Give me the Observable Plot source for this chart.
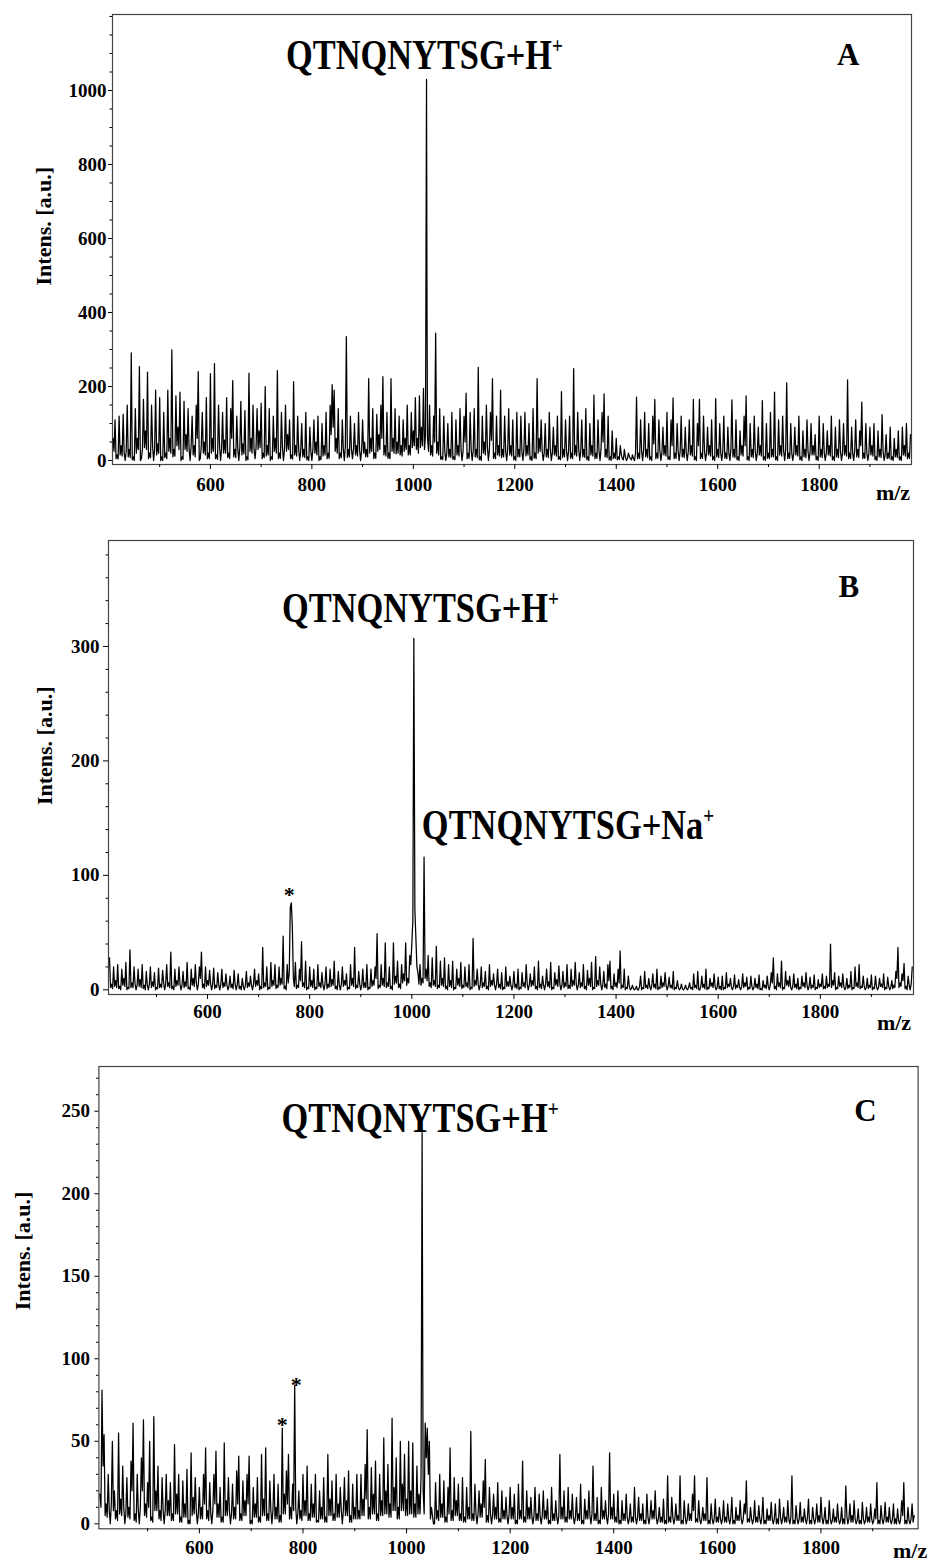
<!DOCTYPE html>
<html><head><meta charset="utf-8">
<script src="https://cdn.jsdelivr.net/npm/d3@7"></script>
<script src="https://cdn.jsdelivr.net/npm/@observablehq/plot@0.6"></script>
<style>
body{margin:0;background:#fff;}
#chart{width:931px;}
#chart svg{display:block;}
</style></head><body><div id="chart"></div>
<script>
// m/z sampling points of the spectra (even and odd samples)
const mzEven = [
408,412,416,420,424,428,432,436,440,444,448,452,456,460,464,468,472,476,480,484,488,492,496,500,504,
508,512,516,520,524,528,532,536,540,544,548,552,556,560,564,568,572,576,580,584,588,592,596,600,604,
608,612,616,620,624,628,632,636,640,644,648,652,656,660,664,668,672,676,680,684,688,692,696,700,704,
708,712,716,720,724,728,732,736,740,744,748,752,756,760,764,768,772,776,780,784,788,792,796,800,804,
808,812,816,820,824,828,832,836,840,844,848,852,856,860,864,868,872,876,880,884,888,892,896,900,904,
908,912,916,920,924,928,932,936,940,944,948,952,956,960,964,968,972,976,980,984,988,992,996,1000,1004,
1008,1012,1016,1020,1024,1028,1032,1036,1040,1044,1048,1052,1056,1060,1064,1068,1072,1076,1080,1084,1088,1092,1096,1100,1104,
1108,1112,1116,1120,1124,1128,1132,1136,1140,1144,1148,1152,1156,1160,1164,1168,1172,1176,1180,1184,1188,1192,1196,1200,1204,
1208,1212,1216,1220,1224,1228,1232,1236,1240,1244,1248,1252,1256,1260,1264,1268,1272,1276,1280,1284,1288,1292,1296,1300,1304,
1308,1312,1316,1320,1324,1328,1332,1336,1340,1344,1348,1352,1356,1360,1364,1368,1372,1376,1380,1384,1388,1392,1396,1400,1404,
1408,1412,1416,1420,1424,1428,1432,1436,1440,1444,1448,1452,1456,1460,1464,1468,1472,1476,1480,1484,1488,1492,1496,1500,1504,
1508,1512,1516,1520,1524,1528,1532,1536,1540,1544,1548,1552,1556,1560,1564,1568,1572,1576,1580,1584,1588,1592,1596,1600,1604,
1608,1612,1616,1620,1624,1628,1632,1636,1640,1644,1648,1652,1656,1660,1664,1668,1672,1676,1680,1684,1688,1692,1696,1700,1704,
1708,1712,1716,1720,1724,1728,1732,1736,1740,1744,1748,1752,1756,1760,1764,1768,1772,1776,1780,1784,1788,1792,1796,1800,1804,
1808,1812,1816,1820,1824,1828,1832,1836,1840,1844,1848,1852,1856,1860,1864,1868,1872,1876,1880,1884,1888,1892,1896,1900,1904,
1908,1912,1916,1920,1924,1928,1932,1936,1940,1944,1948,1952,1956,1960,1964,1968,1972,1976,1980];
const mzOdd = [
410,414,418,422,426,430,434,438,442,446,450,454,458,462,466,470,474,478,482,486,490,494,498,502,506,
510,514,518,522,526,530,534,538,542,546,550,554,558,562,566,570,574,578,582,586,590,594,598,602,606,
610,614,618,622,626,630,634,638,642,646,650,654,658,662,666,670,674,678,682,686,690,694,698,702,706,
710,714,718,722,726,730,734,738,742,746,750,754,758,762,766,770,774,778,782,786,790,794,798,802,806,
810,814,818,822,826,830,834,838,842,846,850,854,858,862,866,870,874,878,882,886,890,894,898,902,906,
910,914,918,922,926,930,934,938,942,946,950,954,958,962,966,970,974,978,982,986,990,994,998,1002,1006,
1010,1014,1018,1022,1026,1030,1034,1038,1042,1046,1050,1054,1058,1062,1066,1070,1074,1078,1082,1086,1090,1094,1098,1102,1106,
1110,1114,1118,1122,1126,1130,1134,1138,1142,1146,1150,1154,1158,1162,1166,1170,1174,1178,1182,1186,1190,1194,1198,1202,1206,
1210,1214,1218,1222,1226,1230,1234,1238,1242,1246,1250,1254,1258,1262,1266,1270,1274,1278,1282,1286,1290,1294,1298,1302,1306,
1310,1314,1318,1322,1326,1330,1334,1338,1342,1346,1350,1354,1358,1362,1366,1370,1374,1378,1382,1386,1390,1394,1398,1402,1406,
1410,1414,1418,1422,1426,1430,1434,1438,1442,1446,1450,1454,1458,1462,1466,1470,1474,1478,1482,1486,1490,1494,1498,1502,1506,
1510,1514,1518,1522,1526,1530,1534,1538,1542,1546,1550,1554,1558,1562,1566,1570,1574,1578,1582,1586,1590,1594,1598,1602,1606,
1610,1614,1618,1622,1626,1630,1634,1638,1642,1646,1650,1654,1658,1662,1666,1670,1674,1678,1682,1686,1690,1694,1698,1702,1706,
1710,1714,1718,1722,1726,1730,1734,1738,1742,1746,1750,1754,1758,1762,1766,1770,1774,1778,1782,1786,1790,1794,1798,1802,1806,
1810,1814,1818,1822,1826,1830,1834,1838,1842,1846,1850,1854,1858,1862,1866,1870,1874,1878,1882,1886,1890,1894,1898,1902,1906,
1910,1914,1918,1922,1926,1930,1934,1938,1942,1946,1950,1954,1958,1962,1966,1970,1974,1978];

// Panel A intensities
const intensA = [
60,110,15,120,40,125,0,150,30,291,10,140,60,254,5,165,80,239,20,150,0,190,45,170,10,
130,20,190,60,299,30,175,90,185,10,160,70,140,0,120,40,150,240,5,130,50,170,20,235,60,
262,15,150,0,130,55,170,20,140,216,30,120,0,160,45,135,10,236,60,150,5,140,80,155,20,
200,40,140,10,120,60,243,20,130,0,150,70,110,15,213,40,120,0,100,30,130,10,90,0,110,
50,120,10,100,40,130,20,150,205,190,60,140,20,110,0,335,30,120,5,100,40,130,0,110,50,
30,221,60,140,20,125,70,150,227,40,130,20,221,60,140,50,120,40,110,60,150,40,130,80,170,
60,175,90,195,70,60,150,40,120,344,50,140,10,120,0,100,30,130,10,110,40,140,0,120,182,
20,130,0,140,30,252,10,120,50,150,0,130,221,20,120,40,190,30,120,0,140,40,110,10,130,
30,120,0,130,40,100,10,140,20,221,60,110,0,100,30,130,0,90,40,120,10,186,30,110,0,
120,20,248,40,130,0,110,30,140,10,100,40,177,20,110,0,130,180,30,120,10,80,20,60,10,
40,5,30,0,20,5,15,0,171,20,110,0,130,30,100,10,120,165,20,110,0,90,40,130,10,
110,169,20,100,0,120,30,90,0,110,40,165,10,100,165,20,120,0,90,40,110,10,167,30,100,
0,120,20,90,0,164,30,110,10,80,40,120,175,10,100,30,120,0,90,40,162,10,100,20,130,
30,185,10,110,40,120,0,210,20,100,0,90,40,120,10,80,30,110,0,100,40,70,10,120,30,
100,0,80,40,120,10,90,30,110,0,100,40,218,20,90,0,110,30,80,158,20,100,0,90,40,
100,10,80,30,124,0,70,20,90,10,60,30,80,10,90,40,100,20,70];
const intensA2 = [
25,5,4,15,12,20,25,10,8,2,0,20,30,0,30,35,30,5,8,40,30,15,20,0,0,
8,5,25,20,10,12,40,30,0,3,30,25,30,40,15,10,60,0,40,20,15,5,5,20,25,
5,3,40,30,20,20,8,5,60,10,8,30,35,15,18,0,2,25,20,30,35,30,35,5,8,
12,15,0,3,25,20,5,6,35,30,25,30,5,4,15,12,30,25,10,8,2,0,25,30,20,
15,0,2,12,15,5,6,70,90,25,20,5,8,30,40,8,10,30,30,15,12,30,25,20,10,
10,20,25,5,6,25,30,60,15,12,6,5,25,20,18,20,15,12,25,30,15,15,35,40,30,
20,35,40,30,1030,25,15,12,50,20,15,3,2,25,20,10,8,3,2,15,12,30,25,50,5,
6,30,25,10,8,2,0,20,15,35,30,55,6,5,15,12,8,10,25,30,15,12,2,0,10,
10,25,30,12,15,2,0,6,5,20,25,25,20,10,8,30,20,15,12,3,2,8,10,25,25,
6,5,15,12,30,25,10,8,2,0,15,12,5,6,25,30,50,10,8,2,0,5,6,2,3,
15,2,10,5,10,2,5,20,5,6,25,30,10,8,2,0,45,5,6,25,20,15,12,3,2,
40,5,6,25,25,10,8,20,25,15,12,2,0,40,5,6,25,20,15,12,2,0,10,8,20,
25,6,5,20,30,10,8,2,0,15,12,40,2,0,10,8,25,20,15,12,2,0,6,5,10,
10,2,0,15,12,25,30,5,6,20,20,15,12,2,0,10,8,25,20,15,15,2,0,10,8,
20,20,15,12,2,0,10,8,25,20,15,12,5,6,20,25,10,8,40,5,6,20,20,15,12,
2,0,10,8,25,15,5,6,2,0,10,8,2,0,15,12,5,6];
const peakMzA = [1027];
const peakIntA = [390];

// Panel B intensities
const intensB = [
28,5,20,8,22,3,18,10,24,2,35,6,20,0,18,9,22,4,16,0,20,7,15,2,19,
5,17,0,22,6,33,3,18,8,20,0,16,7,24,2,18,10,22,0,20,33,5,20,8,17,
0,19,4,15,0,18,6,14,0,12,5,17,0,14,3,10,0,16,6,12,0,18,8,14,3,
37,6,20,2,24,8,22,4,20,10,47,3,22,15,76,10,24,4,18,42,6,25,2,20,8,
18,2,22,6,15,0,20,5,18,9,25,3,16,0,20,8,14,2,22,10,37,4,16,0,18,
6,22,2,18,8,20,49,4,22,10,41,6,20,3,41,12,25,5,22,14,41,10,30,40,307,
45,15,22,10,116,18,30,6,28,8,38,4,25,10,28,3,22,8,25,2,18,10,24,4,20,
6,22,2,45,8,18,0,20,6,16,3,22,8,14,0,18,5,15,2,20,7,12,0,16,5,
18,2,15,6,22,0,14,8,20,3,25,5,12,0,18,7,24,2,15,9,21,0,16,6,22,
4,18,8,24,0,15,6,22,3,17,10,24,2,29,8,20,0,16,5,22,25,3,14,6,18,
34,4,18,2,12,0,4,0,3,0,12,2,16,4,10,0,14,5,18,2,12,6,15,0,11,
4,16,2,8,0,5,0,4,0,6,2,14,4,16,0,12,5,18,2,10,6,14,0,11,3,
12,2,15,5,10,0,13,4,9,0,14,6,11,2,12,0,10,5,13,1,8,4,12,0,15,
28,3,14,6,25,2,16,8,12,0,14,5,10,2,12,6,15,0,11,4,13,2,9,5,14,
3,12,5,40,8,15,2,12,6,14,0,10,4,16,2,20,6,22,3,12,0,10,4,13,2,
12,0,10,5,14,2,11,0,8,4,16,37,6,14,23,3,12,0,20];
const intensB2 = [
2,1,3,2,1,0,4,3,0,1,2,2,5,4,3,2,1,0,4,5,2,3,0,1,2,
2,6,5,3,2,1,0,3,4,5,4,2,3,1,0,4,3,6,5,10,2,1,3,4,5,
5,1,2,4,5,2,3,4,3,2,1,5,4,1,0,3,4,2,3,4,5,3,4,0,1,
2,3,0,1,3,4,1,2,4,5,1,0,6,72,55,3,1,2,8,3,2,0,1,3,2,
0,1,3,2,4,5,1,2,3,4,1,0,4,5,3,4,0,1,4,3,1,2,5,4,2,
2,0,1,3,4,10,1,2,4,3,2,3,1,0,5,6,2,1,6,8,4,6,22,60,70,
20,5,4,6,10,8,3,2,4,3,1,2,4,3,1,0,3,2,0,1,4,3,1,2,3,
2,0,1,3,4,5,4,2,3,1,0,3,4,4,5,2,1,0,1,3,3,4,4,2,1,
0,1,3,2,5,4,3,4,1,0,2,1,4,5,3,2,0,1,4,3,5,4,2,3,1,
1,3,4,5,4,2,3,1,0,4,3,0,1,3,4,5,4,2,1,8,1,0,3,2,6,
1,2,0,1,3,1,1,1,0,3,0,1,2,1,3,4,2,1,0,1,2,3,4,3,2,
1,0,1,2,1,1,1,1,2,1,0,2,1,0,3,2,1,0,1,3,2,3,2,1,0,
0,1,2,3,2,3,1,2,2,3,2,3,0,1,3,2,2,1,0,0,2,1,3,4,6,
1,0,3,2,0,1,4,3,2,3,2,1,0,1,3,2,4,3,1,2,0,1,2,3,1,
1,2,3,2,4,0,1,3,2,3,2,1,2,0,1,3,2,1,2,3,2,1,2,0,1,
3,2,3,2,0,1,3,2,1,2,10,2,3,8,1,0,4,5];
const peakMzB = [1005];
const peakIntB = [190];

// Panel C intensities
const intensC = [
18,81,54,12,30,0,50,20,8,55,15,35,0,28,10,38,61,6,30,0,40,63,12,25,50,
4,65,20,35,8,28,0,30,14,25,6,48,18,30,4,26,12,33,2,43,16,28,0,22,10,
30,46,8,25,0,30,44,12,22,4,49,14,28,0,24,10,32,41,6,26,14,30,41,2,22,
12,28,4,42,15,46,6,26,0,30,10,24,5,58,18,32,42,10,24,84,0,20,8,30,14,
35,6,24,12,30,2,20,10,28,4,42,15,26,6,30,12,22,0,28,14,32,5,24,10,30,
8,30,15,36,57,10,34,18,38,6,30,14,52,20,36,12,64,22,40,10,50,24,42,15,50,
20,49,12,35,18,30,20,61,58,50,10,0,25,8,30,12,26,4,22,46,8,28,14,24,6,
28,4,22,10,56,6,24,0,20,12,26,39,5,22,0,18,10,25,3,20,8,16,0,22,10,
18,2,24,8,38,4,20,10,16,0,22,6,18,0,20,8,15,2,22,6,14,0,42,10,20,
4,22,8,18,0,16,6,24,2,15,8,20,0,35,6,16,2,22,8,14,0,43,10,18,4,
20,2,14,6,18,0,12,4,22,0,16,6,12,2,18,0,14,8,20,0,10,4,15,2,29,
4,16,0,12,5,29,2,14,0,12,6,18,29,3,14,0,10,6,28,2,12,0,15,4,10,
0,14,4,12,0,16,2,10,5,14,0,12,26,3,10,0,14,4,11,0,16,2,9,5,13,
0,12,3,15,0,10,4,14,0,29,2,11,0,13,4,9,0,15,2,10,0,12,5,16,0,
10,2,14,0,9,4,12,0,10,3,23,0,12,5,14,0,9,2,13,0,10,4,12,0,9,
25,2,11,0,13,4,10,0,12,3,9,0,14,25,2,10,0,12,5];
const intensC2 = [
10,35,5,4,8,12,8,3,2,6,5,10,6,4,3,20,2,1,8,10,20,5,4,10,2,
1,8,8,3,2,8,8,5,5,2,2,6,6,1,1,4,4,0,0,5,6,8,6,3,3,
12,3,2,6,8,12,4,4,1,1,5,5,8,6,3,3,12,2,2,5,5,12,0,0,4,
4,1,1,5,5,2,2,8,8,3,3,1,1,6,6,12,3,3,8,10,6,3,2,5,5,
2,2,4,4,1,1,3,3,1,1,5,5,2,2,4,4,8,8,5,5,1,1,3,3,3,
3,5,5,15,3,3,6,6,2,2,5,5,6,6,4,4,8,8,3,3,8,8,5,5,6,
6,4,4,6,6,237,6,40,30,3,5,0,3,2,4,4,1,1,6,2,2,5,5,2,2,
1,1,3,3,2,2,6,6,4,4,10,1,1,6,5,3,3,1,1,3,3,4,6,3,3,
0,0,3,3,1,1,3,3,4,5,2,2,4,5,3,3,0,0,2,2,4,5,3,3,1,
1,3,3,4,4,2,2,0,0,3,3,5,6,2,2,0,0,3,3,4,6,3,3,1,1,
0,0,2,2,4,3,1,1,4,4,2,2,0,0,4,4,3,3,4,3,1,1,0,0,1,
1,4,3,2,2,0,0,4,3,2,2,8,1,1,3,3,2,2,0,0,3,3,1,1,3,
3,1,1,3,4,0,0,2,2,3,3,6,1,1,3,3,1,1,3,4,0,0,2,2,3,
3,0,0,4,3,1,1,3,4,0,0,3,3,1,1,3,4,0,0,3,3,1,1,4,3,
0,0,3,2,1,1,3,2,0,0,5,3,1,1,3,2,0,0,3,2,1,1,3,2,3,
0,0,3,3,1,1,2,3,0,0,2,3,5,0,0,2,3,1];
const peakMzC = [1031];
const peakIntC = [127];

// ticks
const xMajorTicks = [600, 800, 1000, 1200, 1400, 1600, 1800];
const xMinorTicks = [500, 700, 900, 1100, 1300, 1500, 1700, 1900];
const yMajorA = [0, 200, 400, 600, 800, 1000];
const yMinorA = [50, 100, 150, 250, 300, 350, 450, 500, 550, 650, 700, 750, 850, 900, 950, 1050, 1100, 1150, 1200];
const yMajorB = [0, 100, 200, 300];
const yMinorB = [20, 40, 60, 80, 120, 140, 160, 180, 220, 240, 260, 280, 320, 340, 360, 380];
const yMajorC = [0, 50, 100, 150, 200, 250];
const yMinorC = [10, 20, 30, 40, 60, 70, 80, 90, 110, 120, 130, 140, 160, 170, 180, 190, 210, 220, 230, 240, 260, 270];

// annotations (text, m/z, intensity)
const titleTextA = ["QTNQNYTSG+H⁺"], titleMzA = [1022], titleIntA = [1096];
const letterA = ["A"], letterMzA = [1857], letterIntA = [1095];
const titleTextB = ["QTNQNYTSG+H⁺", "QTNQNYTSG+Na⁺"], titleMzB = [1017, 1306], titleIntB = [333, 143.6];
const letterB = ["B"], letterMzB = [1856], letterIntB = [351.6];
const starMzB = [760], starIntB = [86.8];
const titleTextC = ["QTNQNYTSG+H⁺"], titleMzC = [1026], titleIntC = [245.5];
const letterC = ["C"], letterMzC = [1886], letterIntC = [250];
const starMzC = [760, 787], starIntC = [62.3, 86.5];
const yLabel = "Intens. [a.u.]";
const xLabel = "m/z";

[intensA, intensB, intensC].forEach((a) => { if (a.length !== mzEven.length) throw new Error("even length " + a.length); });
[intensA2, intensB2, intensC2].forEach((a) => { if (a.length !== mzOdd.length) throw new Error("odd length " + a.length); });

const FONT = "'Liberation Serif','Times New Roman',Times,serif";

function makePanel(c) {
  const pts = mzEven.map((m, i) => ({mz: m, v: c.series[i]}))
    .concat(mzOdd.map((m, i) => ({mz: m, v: c.series2[i]})))
    .concat(c.peakMz.map((m, i) => ({mz: m, v: c.peakInt[i]})))
    .sort((a, b) => a.mz - b.mz);
  const titles = c.titleText.map((t, i) => ({t, mz: c.titleMz[i], v: c.titleInt[i]}));
  const letters = c.letter.map((t, i) => ({t, mz: c.letterMz[i], v: c.letterInt[i]}));
  const stars = c.starMz.map((m, i) => ({t: "*", mz: m, v: c.starInt[i]}));
  return Plot.plot({
    width: 931, height: c.height,
    marginLeft: c.ml, marginRight: c.mr, marginTop: c.mt, marginBottom: c.mb,
    x: {domain: c.xDomain},
    y: {domain: c.yDomain},
    style: {fontFamily: FONT, fontSize: "19px", fontWeight: "bold", color: "black", background: "white"},
    marks: [
      Plot.frame({stroke: "#444", strokeWidth: 1.2}),
      Plot.axisX(xMajorTicks, {tickSize: 5, tickPadding: c.xtp, tickFormat: "d", label: null}),
      Plot.axisX(xMinorTicks, {tickSize: 3, text: null, label: null}),
      Plot.axisY(c.yMajor, {tickSize: c.yts, tickPadding: c.ytp, tickFormat: "d", label: null}),
      Plot.axisY(c.yMinor, {tickSize: 2.5, text: null, label: null}),
      Plot.line(pts, {x: "mz", y: "v", stroke: "black", strokeWidth: 1.25}),
      Plot.text(titles, {x: "mz", y: "v", text: "t", fontSize: 43, fontWeight: "bold", textAnchor: "middle", lineAnchor: "middle"}),
      Plot.text(letters, {x: "mz", y: "v", text: "t", fontSize: 31, fontWeight: "bold", textAnchor: "middle", lineAnchor: "middle"}),
      Plot.text(stars, {x: "mz", y: "v", text: "t", fontSize: 22, fontWeight: "bold", textAnchor: "middle", lineAnchor: "middle", dy: 4}),
      Plot.text([yLabel], {frameAnchor: "left", rotate: -90, dx: c.ylDx, dy: c.ylDy, fontSize: 22, fontWeight: "bold", textAnchor: "middle", lineAnchor: "middle"}),
      Plot.text([xLabel], {frameAnchor: "bottom-right", dx: c.xlDx, dy: c.xlDy, fontSize: 22, fontWeight: "bold", textAnchor: "middle", lineAnchor: "middle"})
    ]
  });
}

const svgA = makePanel({
  series: intensA, series2: intensA2, peakMz: peakMzA, peakInt: peakIntA,
  height: 520, ml: 112, mr: 20, mt: 14, mb: 56,
  xDomain: [407, 1982], yDomain: [-10.8, 1205.4],
  yMajor: yMajorA, yMinor: yMinorA, yts: 4, ytp: 2, xtp: 8,
  titleText: titleTextA, titleMz: titleMzA, titleInt: titleIntA,
  letter: letterA, letterMz: letterMzA, letterInt: letterIntA,
  starMz: [], starInt: [],
  ylDx: -68.6, ylDy: -13.3, xlDx: -18.5, xlDy: 28
});
const svgB = makePanel({
  series: intensB, series2: intensB2, peakMz: peakMzB, peakInt: peakIntB,
  height: 530, ml: 108, mr: 18, mt: 20, mb: 56,
  xDomain: [406, 1982.5], yDomain: [-4.1, 392.6],
  yMajor: yMajorB, yMinor: yMinorB, yts: 5, ytp: 4, xtp: 5,
  titleText: titleTextB, titleMz: titleMzB, titleInt: titleIntB,
  letter: letterB, letterMz: letterMzB, letterInt: letterIntB,
  starMz: starMzB, starInt: starIntB,
  ylDx: -64, ylDy: -21.7, xlDx: -19.5, xlDy: 28
});
const svgC = makePanel({
  series: intensC, series2: intensC2, peakMz: peakMzC, peakInt: peakIntC,
  height: 510, ml: 98.4, mr: 13.4, mt: 16, mb: 31.7,
  xDomain: [406, 1987.6], yDomain: [-3.03, 277.1],
  yMajor: yMajorC, yMinor: yMinorC, yts: 4, ytp: 5, xtp: 7,
  titleText: titleTextC, titleMz: titleMzC, titleInt: titleIntC,
  letter: letterC, letterMz: letterMzC, letterInt: letterIntC,
  starMz: starMzC, starInt: starIntC,
  ylDx: -75.6, ylDy: -46.7, xlDx: -8, xlDy: 22
});

const host = document.getElementById("chart");
host.append(svgA, svgB, svgC);

// superscript "+" and condensed look of the peak labels
const NS = "http://www.w3.org/2000/svg";
host.querySelectorAll("text").forEach((t) => {
  const s = t.textContent;
  if (s.startsWith("QTNQ") && s.endsWith("⁺")) {
    t.textContent = s.slice(0, -1);
    const sup = document.createElementNS(NS, "tspan");
    sup.setAttribute("font-size", "24");
    sup.setAttribute("dy", "-16");
    sup.textContent = "+";
    t.appendChild(sup);
    const len = t.getComputedTextLength();
    t.setAttribute("textLength", (len * 0.8).toFixed(1));
    t.setAttribute("lengthAdjust", "spacingAndGlyphs");
  }
});
</script>
</body></html>
